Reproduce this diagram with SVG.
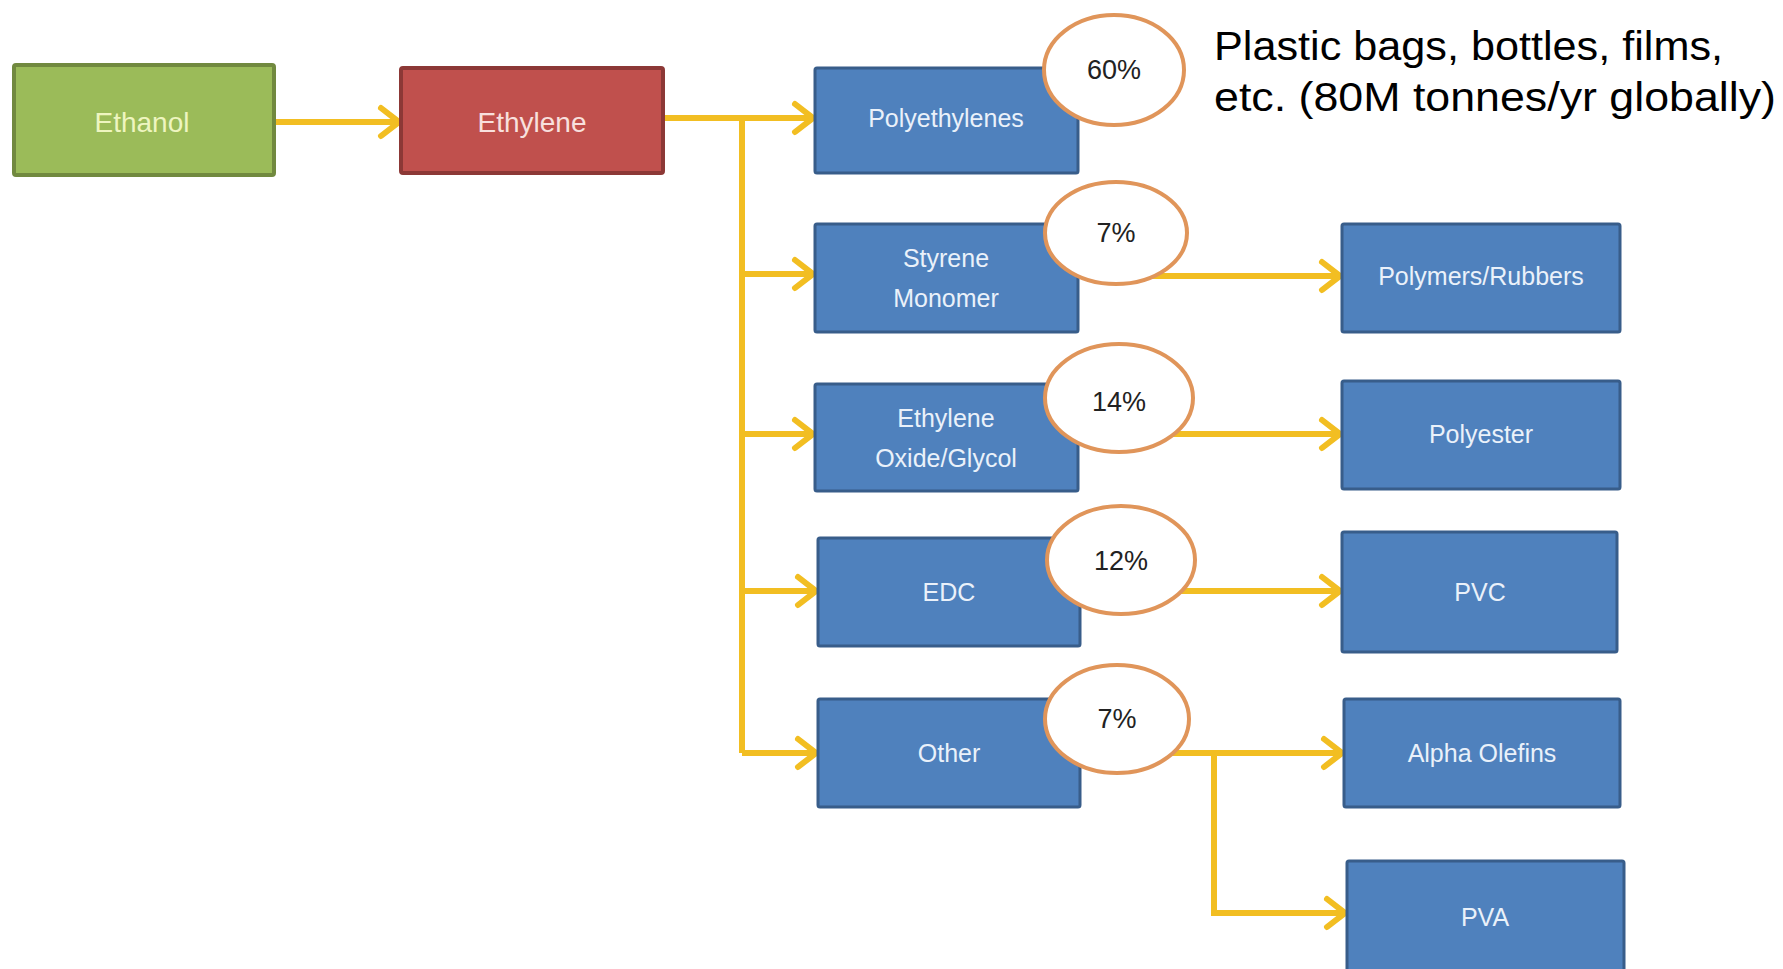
<svg xmlns="http://www.w3.org/2000/svg" width="1783" height="969" viewBox="0 0 1783 969">
<defs>
<marker id="chev" viewBox="0 0 26 36" markerWidth="26" markerHeight="36" refX="22" refY="18" orient="auto" markerUnits="userSpaceOnUse">
<path d="M4,4 L22,18 L4,32" fill="none" stroke="#F2BE22" stroke-width="6" stroke-linecap="round" stroke-linejoin="miter"/>
</marker>
<style>
.blue{fill:#4F81BD;stroke:#385D8A;stroke-width:3}
.lbl{font-family:"Liberation Sans",Arial,sans-serif;font-size:25px;fill:#EAF1FA;text-anchor:middle;dominant-baseline:central}
.big{font-size:28px}
.pct{font-family:"Liberation Sans",Arial,sans-serif;font-size:27px;fill:#222;text-anchor:middle;dominant-baseline:central}
.ell{fill:#FFFFFF;stroke:#E0955A;stroke-width:4}
.con{fill:none;stroke:#F2BE22;stroke-width:6}
.note{font-family:"Liberation Sans",Arial,sans-serif;font-size:40px;fill:#000}
</style>
</defs>
<rect width="1783" height="969" fill="#FFFFFF"/>
<g id="connectors">
<path class="con" d="M274,122 L399,122" marker-end="url(#chev)"/>
<path class="con" d="M663,118 L813,118" marker-end="url(#chev)"/>
<path class="con" d="M742,118 L742,753" stroke-width="7"/>
<path class="con" d="M742,274 L813,274" marker-end="url(#chev)"/>
<path class="con" d="M742,434 L813,434" marker-end="url(#chev)"/>
<path class="con" d="M742,591 L816,591" marker-end="url(#chev)"/>
<path class="con" d="M742,753 L816,753" marker-end="url(#chev)"/>
<path class="con" d="M1078,276 L1340,276" marker-end="url(#chev)"/>
<path class="con" d="M1078,434 L1340,434" marker-end="url(#chev)"/>
<path class="con" d="M1080,591 L1340,591" marker-end="url(#chev)"/>
<path class="con" d="M1080,753 L1342,753" marker-end="url(#chev)"/>
<path class="con" d="M1214,753 L1214,913 L1345,913" marker-end="url(#chev)"/>
</g>
<g id="ethanol">
<rect x="14" y="65" width="260" height="110" fill="#9BBB59" stroke="#71893F" stroke-width="4" rx="2"/>
<text x="142" y="122" class="lbl big" style="fill:#EEF5C0">Ethanol</text>
</g>
<g id="ethylene">
<rect x="401" y="68" width="262" height="105" fill="#C0504D" stroke="#8C3836" stroke-width="4" rx="2"/>
<text x="532" y="122" class="lbl big" style="fill:#F8E0DE">Ethylene</text>
</g>
<g id="polyethylenes">
<rect class="blue" x="815" y="68" width="263" height="105" rx="2"/>
<text x="946" y="118" class="lbl">Polyethylenes</text>
</g>
<g id="styrene">
<rect class="blue" x="815" y="224" width="263" height="108" rx="2"/>
<text x="946" y="258" class="lbl">Styrene</text>
<text x="946" y="298" class="lbl">Monomer</text>
</g>
<g id="eog">
<rect class="blue" x="815" y="384" width="263" height="107" rx="2"/>
<text x="946" y="418" class="lbl">Ethylene</text>
<text x="946" y="458" class="lbl">Oxide/Glycol</text>
</g>
<g id="edc">
<rect class="blue" x="818" y="538" width="262" height="108" rx="2"/>
<text x="949" y="592" class="lbl">EDC</text>
</g>
<g id="other">
<rect class="blue" x="818" y="699" width="262" height="108" rx="2"/>
<text x="949" y="753" class="lbl">Other</text>
</g>
<g id="polymers">
<rect class="blue" x="1342" y="224" width="278" height="108" rx="2"/>
<text x="1481" y="276" class="lbl">Polymers/Rubbers</text>
</g>
<g id="polyester">
<rect class="blue" x="1342" y="381" width="278" height="108" rx="2"/>
<text x="1481" y="434" class="lbl">Polyester</text>
</g>
<g id="pvc">
<rect class="blue" x="1342" y="532" width="275" height="120" rx="2"/>
<text x="1480" y="592" class="lbl">PVC</text>
</g>
<g id="alpha">
<rect class="blue" x="1344" y="699" width="276" height="108" rx="2"/>
<text x="1482" y="753" class="lbl">Alpha Olefins</text>
</g>
<g id="pva">
<rect class="blue" x="1347" y="861" width="277" height="112" rx="2"/>
<text x="1485" y="917" class="lbl">PVA</text>
</g>
<g id="p60">
<ellipse class="ell" cx="1114" cy="70" rx="70" ry="55"/>
<text x="1114" y="70" class="pct">60%</text>
</g>
<g id="p7a">
<ellipse class="ell" cx="1116" cy="233" rx="71" ry="51"/>
<text x="1116" y="233" class="pct">7%</text>
</g>
<g id="p14">
<ellipse class="ell" cx="1119" cy="398" rx="74" ry="54"/>
<text x="1119" y="402" class="pct">14%</text>
</g>
<g id="p12">
<ellipse class="ell" cx="1121" cy="560" rx="74" ry="54"/>
<text x="1121" y="561" class="pct">12%</text>
</g>
<g id="p7b">
<ellipse class="ell" cx="1117" cy="719" rx="72" ry="54"/>
<text x="1117" y="719" class="pct">7%</text>
</g>
<g id="note">
<text class="note" x="1214" y="60" textLength="509" lengthAdjust="spacingAndGlyphs">Plastic bags, bottles, films,</text>
<text class="note" x="1214" y="111" textLength="562" lengthAdjust="spacingAndGlyphs">etc. (80M tonnes/yr globally)</text>
</g>
</svg>
